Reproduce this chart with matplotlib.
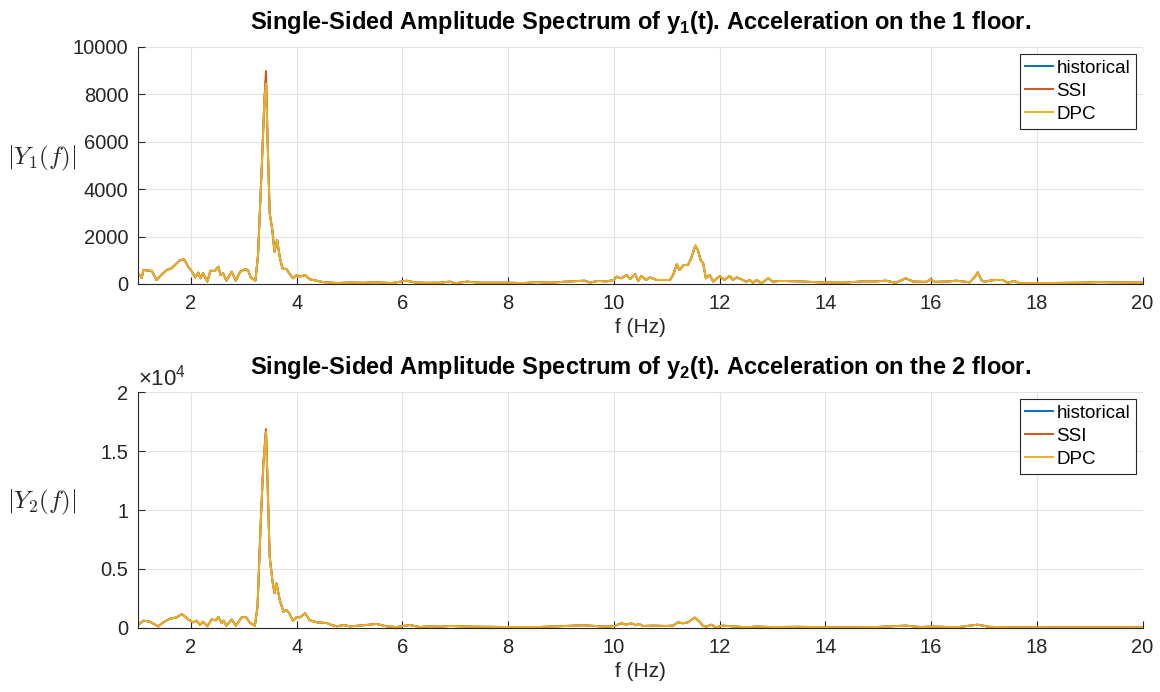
import numpy as np
import matplotlib
matplotlib.use("Agg")
import matplotlib.pyplot as plt
from matplotlib.ticker import FuncFormatter

plt.rcParams['font.family'] = ['Liberation Sans', 'DejaVu Sans']
plt.rcParams['mathtext.fontset'] = 'custom'
plt.rcParams['mathtext.rm'] = 'Liberation Sans'
plt.rcParams['mathtext.bf'] = 'Liberation Sans:bold'

# ---------------------------------------------------------------------------
# Data (floor 1 and floor 2 amplitude spectra)
# ---------------------------------------------------------------------------
f1 = [1.00, 1.07, 1.10, 1.26, 1.35, 1.44, 1.54, 1.63, 1.73, 1.80, 1.87, 1.95,
      2.02, 2.08, 2.14, 2.18, 2.23, 2.31, 2.37, 2.45, 2.52, 2.56, 2.61, 2.67,
      2.77, 2.85, 2.93, 3.02, 3.08, 3.13, 3.22, 3.27, 3.34, 3.39, 3.42, 3.45,
      3.49, 3.54, 3.58, 3.63, 3.68, 3.73, 3.81, 3.86, 3.93, 4.00, 4.06, 4.16,
      4.25, 4.38, 4.50, 4.76, 5.00, 5.26, 5.50, 5.80, 6.08, 6.25, 6.45, 6.71,
      6.90, 7.00, 7.22, 7.47, 7.97, 8.30, 8.54, 8.80, 9.10, 9.36, 9.45, 9.55,
      9.70, 9.86, 10.00, 10.05, 10.14, 10.24, 10.31, 10.40, 10.46, 10.52, 10.61,
      10.68, 10.81, 11.06, 11.12, 11.19, 11.24, 11.32, 11.40, 11.46, 11.54,
      11.59, 11.64, 11.69, 11.74, 11.81, 11.88, 12.00, 12.09, 12.19, 12.25,
      12.32, 12.41, 12.50, 12.57, 12.63, 12.70, 12.79, 12.92, 13.00, 13.14,
      13.51, 13.89, 14.33, 14.71, 14.96, 15.15, 15.33, 15.52, 15.66, 15.91,
      15.99, 16.07, 16.35, 16.48, 16.73, 16.83, 16.88, 16.95, 17.01, 17.10,
      17.22, 17.35, 17.45, 17.57, 17.67, 18.23, 18.86, 19.17, 19.48, 20.00]
y1 = [450, 250, 590, 550, 170, 380, 590, 660, 870, 1010, 1040, 730,
      520, 280, 480, 240, 450, 100, 560, 550, 730, 380, 450, 140,
      520, 140, 520, 620, 590, 280, 140, 1240, 4940, 7770, 8700, 6080,
      2980, 2280, 1360, 1860, 1150, 660, 620, 450, 240, 380, 310, 380,
      200, 140, 80, 40, 60, 50, 70, 40, 140, 60, 50, 55,
      100, 30, 100, 55, 55, 40, 80, 55, 100, 127, 140, 60,
      130, 110, 170, 310, 240, 380, 210, 420, 130, 340, 170,
      280, 170, 170, 380, 830, 590, 800, 800, 1080, 1620,
      1430, 1010, 870, 240, 380, 100, 330, 170, 340, 170,
      280, 200, 100, 170, 55, 170, 30, 240, 100, 130,
      110, 70, 55, 110, 110, 140, 50, 240, 100, 90,
      200, 90, 110, 140, 70, 310, 490, 170, 90, 140,
      170, 170, 50, 130, 30, 40, 55, 80, 70, 55]
# value of the main peak (3.42 Hz) for each method
peak1 = {'historical': 8700, 'SSI': 8990, 'DPC': 8470}

f2 = [1.00, 1.10, 1.22, 1.38, 1.48, 1.60, 1.73, 1.82, 1.88, 1.95, 2.04, 2.11,
      2.17, 2.23, 2.31, 2.39, 2.47, 2.52, 2.58, 2.62, 2.67, 2.77, 2.85, 2.96,
      3.04, 3.12, 3.21, 3.26, 3.32, 3.37, 3.42, 3.45, 3.49, 3.54, 3.58, 3.62,
      3.68, 3.75, 3.81, 3.86, 3.93, 4.00, 4.06, 4.16, 4.25, 4.38, 4.57, 4.66,
      4.76, 4.89, 5.01, 5.26, 5.51, 5.70, 5.89, 6.14, 6.33, 6.52, 6.71, 6.90,
      7.34, 7.97, 8.60, 9.42, 9.86, 10.01, 10.14, 10.24, 10.33, 10.42, 10.47,
      10.56, 10.74, 10.99, 11.12, 11.21, 11.31, 11.40, 11.53, 11.62, 11.68,
      11.75, 11.84, 11.93, 12.06, 12.25, 12.50, 12.70, 13.00, 13.50, 14.00,
      14.50, 15.00, 15.52, 15.80, 16.00, 16.50, 16.88, 17.10, 17.40, 18.00,
      19.00, 20.00]
y2 = [250, 620, 540, 140, 480, 790, 900, 1160, 1010, 720, 480, 620,
      250, 540, 140, 720, 650, 930, 420, 620, 200, 720, 200, 900,
      930, 420, 200, 1810, 8870, 13950, 16750, 12250, 6040, 4070, 2940, 3780,
      2370, 1380, 1520, 1240, 620, 930, 900, 1240, 650, 480, 420, 250,
      140, 250, 140, 230, 340, 140, 80, 250, 80, 140, 110, 170,
      110, 85, 85, 230, 110, 170, 400, 280, 400, 230, 340,
      170, 200, 170, 200, 480, 400, 480, 880, 540, 200,
      110, 280, 60, 200, 140, 60, 120, 80, 100, 60,
      50, 90, 200, 80, 120, 70, 280, 100, 60, 40,
      50, 40]
peak2 = {'historical': 16750, 'SSI': 16860, 'DPC': 16630}

methods = ['historical', 'SSI', 'DPC']
colors = {'historical': '#0072BD', 'SSI': '#D95319', 'DPC': '#EDB120'}

# ---------------------------------------------------------------------------
# Plot
# ---------------------------------------------------------------------------
fig = plt.figure(figsize=(11.6, 6.92), dpi=100)
ax1 = fig.add_axes([0.119, 0.5896, 0.866, 0.3425])
ax2 = fig.add_axes([0.119, 0.0925, 0.866, 0.341])

panels = [
    (ax1, f1, y1, peak1, 1, 10000, 2000),
    (ax2, f2, y2, peak2, 2, 20000, 5000),
]

for ax, f, y, peak, k, ymax, ystep in panels:
    ipk = int(np.argmax(y))
    for m in methods:
        yy = list(y)
        yy[ipk] = peak[m]
        ax.plot(f, yy, color=colors[m], lw=1.4, label=m)

    ax.set_xlim(1, 20)
    ax.set_ylim(0, ymax)
    ax.set_xticks(np.arange(2, 21, 2))
    ax.set_yticks(np.arange(0, ymax + 1, ystep))
    ax.grid(True, color='#e3e3e3', lw=0.8)
    ax.set_axisbelow(True)
    for s in ['top', 'right']:
        ax.spines[s].set_visible(False)
    for s in ['left', 'bottom']:
        ax.spines[s].set_color('#262626')
        ax.spines[s].set_linewidth(0.8)
    ax.tick_params(direction='in', length=5, width=0.8, colors='#262626',
                   labelsize=14.5, pad=7)
    ax.set_xlabel('f (Hz)', fontsize=15, color='#262626', labelpad=4)
    ax.set_ylabel(r'$|Y_%d(f)|$' % k, fontsize=18, rotation=0, va='center',
                  math_fontfamily='cm', color='#262626')
    ax.yaxis.set_label_coords(-0.0955, 0.53)
    ax.set_title(r'Single-Sided Amplitude Spectrum of y$_\mathbf{%d}$(t). '
                 r'Acceleration on the %d floor.' % (k, k),
                 fontsize=17, fontweight='bold', pad=13)
    leg = ax.legend(loc='upper right', fontsize=13.5, frameon=True,
                    fancybox=False, handlelength=1.45, handletextpad=0.2,
                    borderpad=0.3, labelspacing=0.32, borderaxespad=0.37)
    leg.get_frame().set_edgecolor('#262626')
    leg.get_frame().set_linewidth(0.8)
    leg.get_frame().set_alpha(1)

ax2.yaxis.set_major_formatter(FuncFormatter(lambda v, p: '%g' % (v / 1e4)))
ax2.text(0.0, 1.005, r'$\times10^4$', transform=ax2.transAxes, fontsize=16,
         color='#262626', ha='left', va='bottom')

fig.savefig('out.png', dpi=100)
